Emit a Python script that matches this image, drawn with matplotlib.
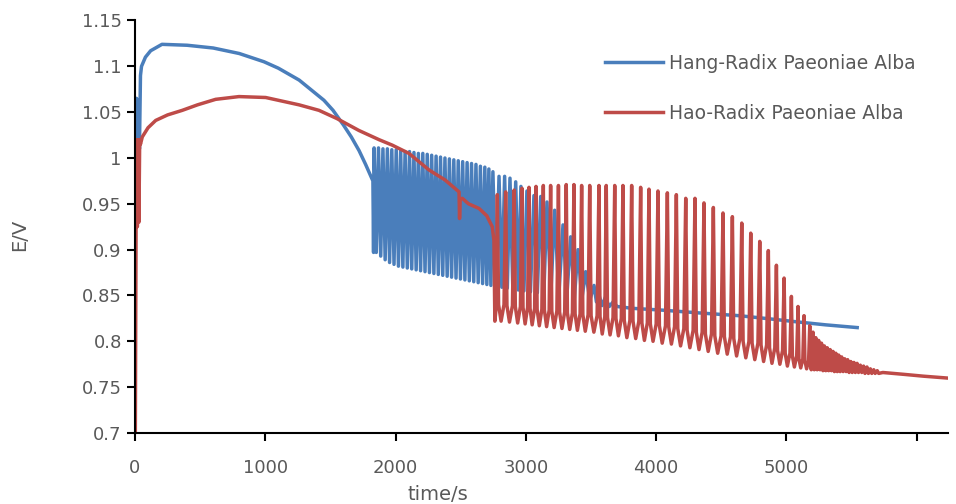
import numpy as np
import matplotlib
matplotlib.use("Agg")
from matplotlib import pyplot as plt

# Hang-Radix Paeoniae Alba (blue), smooth part before the oscillations
blue_pre_t = [0, 4, 8, 12, 16, 20, 24, 28, 34, 42, 50, 80, 120, 207, 400, 600, 800,
              990, 1100, 1260, 1450, 1520, 1600, 1660, 1720, 1770, 1810, 1826, 1831]
blue_pre_e = [0.60, 1.065, 1.005, 1.065, 1.005, 1.06, 1.005, 1.06, 1.01, 1.09, 1.100,
              1.110, 1.117, 1.124, 1.123, 1.120, 1.114, 1.105, 1.098, 1.085, 1.063,
              1.052, 1.036, 1.023, 1.008, 0.993, 0.980, 0.975, 0.897]
# blue oscillations: peak times, peak values, trough values
blue_pk_t = [1835, 1869, 1903, 1937, 1971, 2005, 2039, 2073, 2107, 2141, 2175, 2209,
             2243, 2277, 2311, 2345, 2379, 2413, 2447, 2481, 2515, 2549, 2583, 2617,
             2651, 2685, 2716, 2747, 2794, 2837, 2878, 2922, 2962, 3008, 3062, 3114,
             3162, 3221, 3285, 3344, 3400, 3459, 3523]
blue_pk = [1.011, 1.011, 1.010, 1.010, 1.009, 1.009, 1.008, 1.007, 1.007, 1.006, 1.005,
           1.005, 1.004, 1.003, 1.002, 1.001, 1.000, 0.999, 0.998, 0.997, 0.996, 0.995,
           0.994, 0.993, 0.991, 0.990, 0.988, 0.985, 0.980, 0.980, 0.978, 0.974, 0.969,
           0.964, 0.959, 0.958, 0.952, 0.943, 0.927, 0.914, 0.900, 0.876, 0.861]
blue_tr = [0.897, 0.893, 0.889, 0.886, 0.884, 0.882, 0.881, 0.880, 0.879, 0.878, 0.877,
           0.876, 0.875, 0.874, 0.873, 0.872, 0.871, 0.870, 0.869, 0.868, 0.867, 0.866,
           0.865, 0.864, 0.863, 0.862, 0.861, 0.860, 0.859, 0.858, 0.857, 0.856, 0.855,
           0.854, 0.853, 0.852, 0.851, 0.850, 0.849, 0.847, 0.846, 0.845, 0.843]
blue_tail_t = [3560, 3585, 3610, 3640, 3670, 3700, 3817, 4050, 4329, 4635, 4840, 5096,
               5300, 5543]
blue_tail_e = [0.851, 0.839, 0.848, 0.838, 0.843, 0.838, 0.836, 0.834, 0.831, 0.828,
               0.825, 0.821, 0.818, 0.815]

# Hao-Radix Paeoniae Alba (red)
red_pre_t = [0, 8, 12, 18, 24, 30, 36, 42, 56, 100, 159, 250, 363, 480, 619, 798, 1003,
             1259, 1412, 1550, 1719, 1873, 1975, 2103, 2256, 2380, 2487, 2491, 2496,
             2512, 2560, 2640, 2700, 2742, 2755, 2762, 2774]
red_pre_e = [0.60, 0.92, 1.02, 0.925, 1.02, 0.93, 1.02, 1.015, 1.023, 1.033, 1.041,
             1.047, 1.052, 1.058, 1.064, 1.067, 1.066, 1.058, 1.052, 1.043, 1.030, 1.020,
             1.014, 1.005, 0.987, 0.976, 0.963, 0.934, 0.955, 0.956, 0.950, 0.945,
             0.937, 0.925, 0.910, 0.822, 0.840]
red_pk_t = [2781, 2845, 2910, 2970, 3024, 3078, 3134, 3190, 3250, 3310, 3369, 3428,
            3490, 3561, 3617, 3682, 3745, 3812, 3881, 3945, 4014, 4086, 4155, 4227,
            4298, 4367, 4439, 4513, 4585, 4657, 4726, 4795, 4861, 4923, 4982, 5038,
            5089, 5135, 5179, 5204]
red_pk = [0.960, 0.963, 0.965, 0.967, 0.968, 0.969, 0.970, 0.970, 0.970, 0.971, 0.971,
          0.970, 0.970, 0.970, 0.970, 0.970, 0.970, 0.970, 0.968, 0.966, 0.964, 0.962,
          0.960, 0.956, 0.956, 0.951, 0.946, 0.940, 0.936, 0.929, 0.918, 0.909, 0.899,
          0.883, 0.869, 0.849, 0.838, 0.828, 0.817, 0.810]
red_low = [0.822, 0.821, 0.820, 0.819, 0.818, 0.817, 0.816, 0.815, 0.814, 0.813, 0.812,
           0.811, 0.810, 0.808, 0.807, 0.806, 0.804, 0.803, 0.801, 0.800, 0.798, 0.797,
           0.795, 0.793, 0.791, 0.789, 0.787, 0.786, 0.784, 0.782, 0.780, 0.778, 0.776,
           0.775, 0.773, 0.772, 0.771, 0.770, 0.769, 0.769]
red_base = [0.840, 0.839, 0.838, 0.837, 0.836, 0.835, 0.834, 0.833, 0.832, 0.831, 0.830,
            0.829, 0.828, 0.827, 0.826, 0.825, 0.823, 0.822, 0.820, 0.819, 0.817, 0.816,
            0.814, 0.812, 0.810, 0.808, 0.806, 0.805, 0.803, 0.800, 0.798, 0.796, 0.793,
            0.790, 0.787, 0.784, 0.781, 0.779, 0.776, 0.774]
red_tail_pk_t = [5225, 5247, 5269, 5291, 5313, 5335, 5357, 5379, 5401, 5424, 5447, 5470,
                 5494, 5518, 5542, 5567, 5592, 5618, 5644, 5670, 5697]
red_tail_pk = [0.804, 0.801, 0.798, 0.795, 0.793, 0.791, 0.789, 0.787, 0.785, 0.783,
               0.781, 0.780, 0.778, 0.777, 0.776, 0.774, 0.773, 0.772, 0.770, 0.769, 0.768]
red_tail_low = [0.769, 0.769, 0.768, 0.768, 0.768, 0.768, 0.767, 0.767, 0.767, 0.767,
                0.767, 0.766, 0.766, 0.766, 0.766, 0.766, 0.765, 0.765, 0.765, 0.765, 0.765]
red_end_t = [5740, 5900, 6050, 6230]
red_end_e = [0.766, 0.764, 0.762, 0.760]

# assemble the traces
bt, be = list(blue_pre_t), list(blue_pre_e)
for i in range(len(blue_pk_t)):
    dt = (blue_pk_t[i + 1] - blue_pk_t[i]) if i + 1 < len(blue_pk_t) else 37
    bt += [blue_pk_t[i], blue_pk_t[i] + 0.5 * dt]
    be += [blue_pk[i], blue_tr[i]]
bt += blue_tail_t
be += blue_tail_e

rt, re_ = list(red_pre_t), list(red_pre_e)
for i in range(len(red_pk_t)):
    dt = (red_pk_t[i + 1] - red_pk_t[i]) if i + 1 < len(red_pk_t) else 21
    rt += [red_pk_t[i], red_pk_t[i] + 0.15 * dt, red_pk_t[i] + 0.45 * dt,
           red_pk_t[i] + 0.8 * dt]
    re_ += [red_pk[i], red_base[i], red_low[i], red_base[i]]
for i in range(len(red_tail_pk_t)):
    rt += [red_tail_pk_t[i], red_tail_pk_t[i] + 11]
    re_ += [red_tail_pk[i], red_tail_low[i]]
rt += red_end_t
re_ += red_end_e

fig = plt.figure(figsize=(9.56, 5.04), dpi=100)
ax = fig.add_axes([135 / 956, 1 - 433 / 504, (948 - 135) / 956, (433 - 20.5) / 504])

ax.plot(bt, be, color="#4a7ebb", lw=2.5, label="Hang-Radix Paeoniae Alba")
ax.plot(rt, re_, color="#be4b48", lw=2.5, label="Hao-Radix Paeoniae Alba")

ax.set_xlim(0, 6240)
ax.set_ylim(0.7, 1.15)
yt = [0.7, 0.75, 0.8, 0.85, 0.9, 0.95, 1.0, 1.05, 1.1, 1.15]
ax.set_yticks(yt)
ax.set_yticklabels(["0.7", "0.75", "0.8", "0.85", "0.9", "0.95", "1", "1.05", "1.1", "1.15"])
ax.set_xticks([0, 1000, 2000, 3000, 4000, 5000, 6000])
ax.set_xticklabels(["0", "1000", "2000", "3000", "4000", "5000", ""])

for s in ["top", "right"]:
    ax.spines[s].set_visible(False)
for s in ["left", "bottom"]:
    ax.spines[s].set_color("black")
    ax.spines[s].set_linewidth(1.5)
ax.tick_params(direction="out", length=6, width=1.5, colors="black",
               labelcolor="#595959", labelsize=13)
ax.tick_params(axis="x", pad=13)

ax.set_xlabel("time/s", fontsize=14, color="#595959")
ax.xaxis.set_label_coords(0.373, -0.125)
ax.set_ylabel("E/V", fontsize=14, color="#595959")
ax.yaxis.set_label_coords(-0.13, 0.48)

leg = ax.legend(loc="upper left", bbox_to_anchor=((605 - 135) / 813, 1 - (54 - 20.5) / 412.5),
                frameon=False, fontsize=13.5, handlelength=3.1, handletextpad=0.3,
                labelspacing=1.65, borderaxespad=0, borderpad=0)
for t in leg.get_texts():
    t.set_color("#595959")

fig.savefig("out.png", dpi=100)
